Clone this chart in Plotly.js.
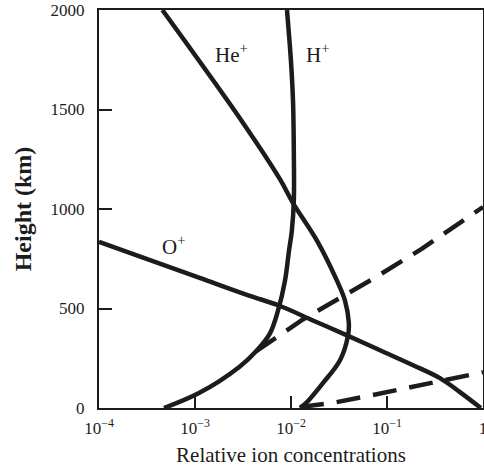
<!DOCTYPE html>
<html>
<head>
<meta charset="utf-8">
<script src="https://cdn.plot.ly/plotly-3.0.1.min.js"></script>
<style>html,body{margin:0;padding:0;background:#fff;}#chart{width:484px;height:470px;}</style>
</head>
<body>
<div id="chart"></div>
<script>
// He+ profile (relative concentration, height km)
const heConc = [0.000457, 0.00309, 0.00767, 0.0105, 0.0187, 0.0301, 0.0365, 0.0400, 0.0393, 0.0324, 0.0215, 0.0147, 0.0124];
const heHeight = [2000, 1440, 1150, 1030, 840, 640, 540, 430, 365, 240, 125, 30, 0];

// H+ profile
const hConc = [0.000475, 0.00110, 0.00287, 0.00443, 0.00604, 0.00733, 0.00866, 0.00953, 0.0102, 0.0107, 0.0107, 0.0105, 0.0100, 0.00908];
const hHeight = [0, 75, 205, 290, 375, 490, 640, 790, 890, 1040, 1290, 1540, 1740, 2000];

// O+ profile
const oConc = [0.0001, 0.00110, 0.00365, 0.0075, 0.0169, 0.0383, 0.0846, 0.187, 0.356, 0.575, 0.95];
const oHeight = [835, 655, 565, 515, 440, 365, 290, 215, 150, 80, 0];

// dashed profiles
const dashUpperConc = [0.00431, 0.0133, 0.0750, 0.230, 1.0];
const dashUpperHeight = [285, 445, 655, 800, 1010];
const dashLowerConc = [0.0124, 0.0267, 0.0634, 0.154, 0.332, 1.0];
const dashLowerHeight = [5, 25, 60, 100, 130, 180];

const xTickVals = [1e-4, 1e-3, 1e-2, 1e-1, 1];
const xTickText = ['10<sup>−4</sup>', '10<sup>−3</sup>', '10<sup>−2</sup>', '10<sup>−1</sup>', '1'];
const yTickVals = [0, 500, 1000, 1500, 2000];
const yTickText = ['0', '500', '1000', '1500', '2000'];

const ink = '#1c1c1c';
const solid = {color: ink, width: 4.5, shape: 'spline', smoothing: 1};
const dashed = {color: ink, width: 4.5, dash: '24px,13px'};

const traces = [
  {x: heConc, y: heHeight, mode: 'lines', line: solid, name: 'He+'},
  {x: hConc, y: hHeight, mode: 'lines', line: solid, name: 'H+'},
  {x: oConc, y: oHeight, mode: 'lines', line: solid, name: 'O+'},
  {x: dashUpperConc, y: dashUpperHeight, mode: 'lines', line: dashed, name: 'dash1'},
  {x: dashLowerConc, y: dashLowerHeight, mode: 'lines', line: dashed, name: 'dash2'}
];

const serif = 'Liberation Serif, Times New Roman, serif';

const layout = {
  width: 484, height: 470,
  margin: {l: 99, r: 1, t: 10, b: 62},
  paper_bgcolor: '#fff', plot_bgcolor: '#fff',
  showlegend: false,
  font: {family: serif, color: ink, size: 16},
  xaxis: {
    type: 'log', range: [-4, 0],
    tickvals: xTickVals, ticktext: xTickText,
    ticks: 'inside', ticklen: 12, tickwidth: 2, tickcolor: ink,
    ticklabeloverflow: 'allow', ticklabelstandoff: 4,
    showline: true, linewidth: 2, linecolor: ink, mirror: true,
    showgrid: false, zeroline: false,
    tickfont: {family: serif, size: 17, color: ink},
    title: {text: 'Relative ion concentrations', font: {family: serif, size: 21, color: ink}, standoff: 10}
  },
  yaxis: {
    range: [0, 2000],
    tickvals: yTickVals, ticktext: yTickText,
    ticks: 'inside', ticklen: 13, tickwidth: 2, tickcolor: ink,
    ticklabelstandoff: 9,
    showline: true, linewidth: 2, linecolor: ink, mirror: true,
    showgrid: false, zeroline: false,
    tickfont: {family: serif, size: 17, color: ink},
    title: {text: '<b>Height (km)</b>', font: {family: serif, size: 24, color: ink}, standoff: 12}
  },
  annotations: [
    {x: -2.625, y: 1780, xref: 'x', yref: 'y', text: 'He<sup>+</sup>', showarrow: false, font: {family: serif, size: 21, color: ink}},
    {x: -1.719, y: 1780, xref: 'x', yref: 'y', text: 'H<sup>+</sup>', showarrow: false, font: {family: serif, size: 21, color: ink}},
    {x: -3.219, y: 815, xref: 'x', yref: 'y', text: 'O<sup>+</sup>', showarrow: false, font: {family: serif, size: 21, color: ink}}
  ]
};

Plotly.newPlot('chart', traces, layout, {displayModeBar: false, staticPlot: true});
</script>
</body>
</html>
